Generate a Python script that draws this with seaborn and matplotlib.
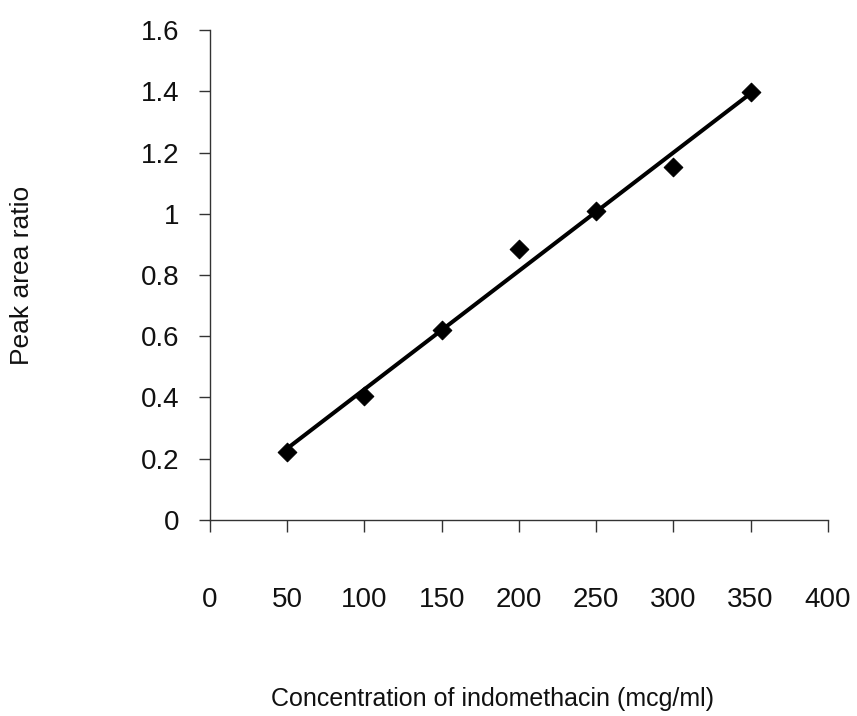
import matplotlib
matplotlib.use("Agg")
import matplotlib.pyplot as plt
import numpy as np
import pandas as pd
import seaborn as sns

# Calibration data: indomethacin concentration vs. peak area ratio
concentration = [50, 100, 150, 200, 250, 300, 350]
peak_area_ratio = [0.222, 0.405, 0.620, 0.885, 1.009, 1.153, 1.398]
x_ticks = [0, 50, 100, 150, 200, 250, 300, 350, 400]
y_ticks = [0, 0.2, 0.4, 0.6, 0.8, 1.0, 1.2, 1.4, 1.6]
y_tick_labels = ["0", "0.2", "0.4", "0.6", "0.8", "1", "1.2", "1.4", "1.6"]

df = pd.DataFrame({"conc": concentration, "ratio": peak_area_ratio})

sns.set_theme(style="white")
plt.rcParams["font.family"] = ["Liberation Sans", "DejaVu Sans"]

fig = plt.figure(figsize=(8.57, 7.16), dpi=100)
ax = fig.add_axes([0.245, 0.274, 0.721, 0.684])

# least-squares calibration line
sns.regplot(data=df, x="conc", y="ratio", ax=ax, ci=None, scatter=False,
            color="black", line_kws={"linewidth": 2.9, "zorder": 2})
sns.scatterplot(data=df, x="conc", y="ratio", ax=ax, marker="D", s=90,
                color="black", edgecolor="black", zorder=3, legend=False)

ax.set_xlim(0, 400)
ax.set_ylim(0, 1.6)
ax.set_xticks(x_ticks)
ax.set_yticks(y_ticks)
ax.set_yticklabels(y_tick_labels)

for side in ["top", "right"]:
    ax.spines[side].set_visible(False)
for side in ["left", "bottom"]:
    ax.spines[side].set_color("#333333")
    ax.spines[side].set_linewidth(1.0)

ax.tick_params(axis="x", direction="out", length=8.5, width=1.0, color="#333333",
               pad=40, labelsize=20, labelcolor="#111111", bottom=True)
ax.tick_params(axis="y", direction="out", length=8, width=1.0, color="#333333",
               pad=14, labelsize=20, labelcolor="#111111", left=True)

ax.set_xlabel("Concentration of indomethacin (mcg/ml)", fontsize=18,
              color="#111111", va="center")
ax.set_ylabel("Peak area ratio", fontsize=19, color="#111111", va="center")
ax.xaxis.set_label_coords(0.458, -0.365)
ax.yaxis.set_label_coords(-0.304, 0.5)

fig.savefig("out.png", dpi=100, facecolor="white")
